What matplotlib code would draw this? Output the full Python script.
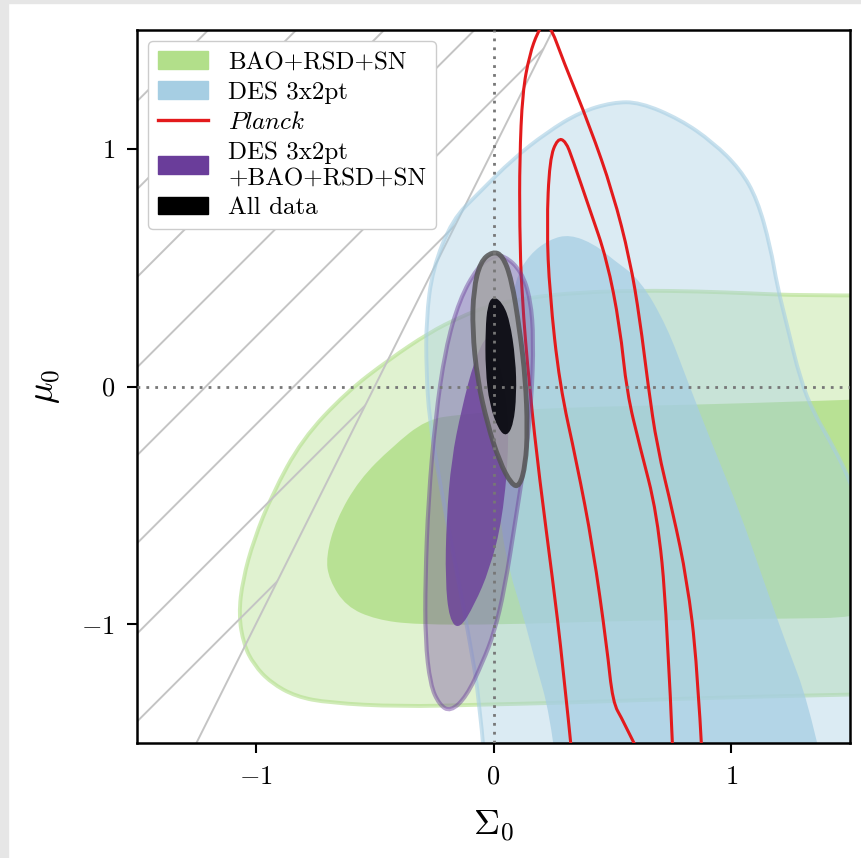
import matplotlib
matplotlib.use('Agg')
import matplotlib.pyplot as plt
import numpy as np
from matplotlib.patches import Patch, Polygon, Rectangle, PathPatch
from matplotlib.path import Path
from matplotlib.lines import Line2D

plt.rcParams['font.family'] = 'serif'
plt.rcParams['font.serif'] = ['cmr10', 'DejaVu Serif']
plt.rcParams['mathtext.fontset'] = 'cm'
plt.rcParams['axes.formatter.use_mathtext'] = True

# 轮廓数据 (Sigma0, mu0)
bao_outer_x = [1.9, 1.291, 1.080, 0.869, 0.616, 0.363, 0.152, -0.017, -0.143, -0.270, -0.439, -0.620,
               -0.806, -0.932, -1.008, -1.055, -1.072, -1.051, -1.008, -0.937, -0.831, -0.692, -0.397,
               -0.059, 0.278, 0.658, 1.080, 1.9]
bao_outer_y = [0.383, 0.383, 0.392, 0.400, 0.404, 0.396, 0.375, 0.341, 0.291, 0.227, 0.114, -0.025,
               -0.223, -0.455, -0.644, -0.813, -0.960, -1.086, -1.171, -1.246, -1.305, -1.331, -1.347,
               -1.339, -1.331, -1.318, -1.305, -1.288]
bao_inner_x = [1.9, 1.291, 0.869, 0.447, 0.110, -0.143, -0.283, -0.426, -0.565, -0.662, -0.705, -0.692,
               -0.620, -0.494, -0.325, 0.025, 0.447, 0.869, 1.9]
bao_inner_y = [-0.042, -0.063, -0.076, -0.084, -0.097, -0.118, -0.139, -0.253, -0.392, -0.560, -0.716,
               -0.813, -0.926, -0.981, -1.002, -1.002, -0.989, -0.981, -0.968]

des_outer_x = [-0.02, -0.059, -0.101, -0.165, -0.228, -0.270, -0.283, -0.283, -0.257, -0.173, -0.059,
               0.080, 0.224, 0.363, 0.502, 0.616, 0.785, 0.924, 1.038, 1.110, 1.165, 1.194, 1.236, 1.291,
               1.346, 1.430, 1.502, 1.629, 1.8]
des_outer_y = [-1.8, -1.318, -1.065, -0.728, -0.392, -0.139, 0.072, 0.282, 0.493, 0.703, 0.817, 0.956,
               1.069, 1.154, 1.196, 1.196, 1.124, 1.027, 0.914, 0.787, 0.589, 0.421, 0.253, 0.029,
               -0.109, -0.253, -0.400, -0.728, -1.8]
des_inner_x = [0.29, 0.236, 0.181, 0.122, 0.068, 0.025, 0.017, 0.046, 0.089, 0.152, 0.236, 0.321, 0.426,
               0.502, 0.616, 0.730, 0.814, 0.924, 1.038, 1.135, 1.236, 1.321, 1.43]
des_inner_y = [-1.8, -1.373, -1.179, -0.952, -0.783, -0.560, -0.265, 0.156, 0.451, 0.556, 0.619, 0.640,
               0.598, 0.535, 0.451, 0.253, 0.029, -0.253, -0.531, -0.813, -1.095, -1.318, -1.8]

planck_outer_x = [0.335, 0.291, 0.249, 0.194, 0.152, 0.118, 0.110, 0.110, 0.122, 0.152, 0.186, 0.215, 0.245,
                  0.291, 0.405, 0.502, 0.574, 0.616, 0.650, 0.688, 0.755, 0.814, 0.857, 0.88]
planck_outer_y = [-1.6, -1.162, -0.813, -0.392, -0.013, 0.396, 0.674, 0.956, 1.238, 1.398, 1.491, 1.537,
                  1.503, 1.377, 1.095, 0.817, 0.535, 0.282, 0.008, -0.253, -0.531, -0.813, -1.162, -1.6]
planck_inner_x = [0.64, 0.544, 0.502, 0.477, 0.418, 0.350, 0.278, 0.236, 0.224, 0.236, 0.270, 0.304, 0.333,
                  0.405, 0.477, 0.532, 0.561, 0.616, 0.688, 0.730, 0.757]
planck_inner_y = [-1.6, -1.402, -1.331, -1.095, -0.674, -0.320, 0.008, 0.396, 0.674, 0.956, 1.045, 1.032,
                  0.956, 0.745, 0.535, 0.253, -0.025, -0.253, -0.531, -0.952, -1.6]

comb_outer_x = [0.046, 0.118, 0.156, 0.169, 0.160, 0.139, 0.093, 0.046, 0.004, -0.046, -0.114, -0.181,
                -0.228, -0.266, -0.287, -0.287, -0.274, -0.245, -0.203, -0.143, -0.068, -0.008]
comb_outer_y = [0.552, 0.484, 0.366, 0.198, -0.055, -0.265, -0.560, -0.855, -1.032, -1.162, -1.305, -1.368,
                -1.339, -1.255, -1.065, -0.813, -0.476, -0.139, 0.156, 0.366, 0.501, 0.547]
comb_inner_x = [-0.017, 0.046, 0.068, 0.038, -0.017, -0.080, -0.143, -0.186, -0.203, -0.198, -0.177, -0.135, -0.080]
comb_inner_y = [0.240, 0.029, -0.223, -0.560, -0.771, -0.918, -1.023, -0.981, -0.813, -0.560, -0.307, -0.097, 0.114]

all_outer_x = [-0.004, 0.038, 0.076, 0.110, 0.135, 0.143, 0.135, 0.110, 0.076, 0.025, -0.025, -0.068, -0.089,
               -0.084, -0.055]
all_outer_y = [0.568, 0.552, 0.451, 0.240, 0.029, -0.181, -0.328, -0.421, -0.413, -0.316, -0.160, 0.029, 0.240,
               0.408, 0.526]
all_inner_x = [-0.004, 0.034, 0.068, 0.093, 0.097, 0.084, 0.055, 0.021, -0.017, -0.034, -0.034, -0.025]
all_inner_y = [0.379, 0.358, 0.282, 0.114, -0.034, -0.160, -0.211, -0.181, -0.076, 0.072, 0.240, 0.341]

# 斜线区域: mu0 > 2*Sigma0 + 1, 斜线 mu0 = Sigma0 + c
hatch_offsets = [0.09, 0.46, 0.84, 1.21, 1.58, 1.96, 2.33, 2.70]
bound_slope, bound_icpt = 2.0, 1.0

c_green = '#b2df8a'
c_blue = '#a6cee3'
c_red = '#e31a1c'
c_purple = '#6a3d9a'

fig = plt.figure(figsize=(8.61, 8.58), dpi=100)
fig.patches.append(Rectangle((0, 0), 8 / 861, 1, transform=fig.transFigure, color='#e6e6e6', zorder=-10))
fig.patches.append(Rectangle((0, 1 - 3 / 858), 1, 3 / 858, transform=fig.transFigure, color='#e6e6e6', zorder=-10))
ax = fig.add_axes([137 / 861, 115 / 858, 713 / 861, 713 / 858])


# 用二次贝塞尔把折线画得平滑一些
def smooth_path(xs, ys, closed=True):
    pts = np.column_stack([xs, ys])
    if closed:
        mids = (pts + np.roll(pts, -1, axis=0)) / 2
        verts = [mids[-1]]
        codes = [Path.MOVETO]
        for i in range(len(pts)):
            verts += [pts[i], mids[i]]
            codes += [Path.CURVE3, Path.CURVE3]
        verts.append(mids[-1])
        codes.append(Path.CLOSEPOLY)
    else:
        verts = [pts[0]]
        codes = [Path.MOVETO]
        for i in range(1, len(pts) - 1):
            end = (pts[i] + pts[i + 1]) / 2 if i < len(pts) - 2 else pts[i + 1]
            verts += [pts[i], end]
            codes += [Path.CURVE3, Path.CURVE3]
    return Path(verts, codes)


def contour(xs, ys, color, a_fill, a_edge, lw, z, edge=None):
    ec = matplotlib.colors.to_rgba(edge or color, a_edge)
    ax.add_patch(PathPatch(smooth_path(xs, ys), facecolor=matplotlib.colors.to_rgba(color, a_fill),
                           edgecolor=ec, lw=lw, zorder=z))


contour(bao_outer_x, bao_outer_y, c_green, 0.4, 0.6, 2.8, 1)
contour(bao_inner_x, bao_inner_y, c_green, 0.85, 0.0, 0, 1.1)
contour(des_outer_x, des_outer_y, c_blue, 0.4, 0.6, 2.8, 2)
contour(des_inner_x, des_inner_y, c_blue, 0.75, 0.0, 0, 2.1)
for px, py in [(planck_outer_x, planck_outer_y), (planck_inner_x, planck_inner_y)]:
    ax.add_patch(PathPatch(smooth_path(px, py, closed=False), fill=False, edgecolor=c_red, lw=2.2, zorder=3))
contour(comb_outer_x, comb_outer_y, c_purple, 0.35, 0.45, 3, 4)
contour(comb_inner_x, comb_inner_y, c_purple, 0.8, 0.0, 0, 4.1)
contour(all_outer_x, all_outer_y, '#a4a4a4', 0.8, 0.85, 3.5, 5, edge='#555555')
contour(all_inner_x, all_inner_y, '#0a0a12', 0.95, 0.0, 0, 5.1)

# 斜线区域
sx = np.array([-1.6, 0.35])
clip = Polygon([(-1.3, -1.6), (0.3, 1.6), (-1.6, 1.6), (-1.6, -1.6)], closed=True,
               transform=ax.transData, fill=False, lw=0)
ax.add_patch(clip)
for c in hatch_offsets:
    ln, = ax.plot(sx, sx + c, color='#c4c4c4', lw=1.4, zorder=1.5)
    ln.set_clip_path(clip)
ax.plot(sx, bound_slope * sx + bound_icpt, color='#c4c4c4', lw=1.4, zorder=1.5)

ax.axvline(0, color='#777777', ls=(0, (1, 2.2)), lw=2, zorder=6)
ax.axhline(0, color='#777777', ls=(0, (1, 2.2)), lw=2, zorder=6)

ax.set_xlim(-1.5, 1.5)
ax.set_ylim(-1.5, 1.5)
ax.set_xticks([-1, 0, 1])
ax.set_yticks([-1, 0, 1])
ax.tick_params(direction='out', length=7, width=1.5, labelsize=19, pad=9)
for sp in ax.spines.values():
    sp.set_linewidth(1.8)
ax.set_xlabel(r'$\Sigma_0$', fontsize=26, labelpad=14)
ax.set_ylabel(r'$\mu_0$', fontsize=26, labelpad=14)

handles = [Patch(color=c_green), Patch(color=c_blue), Line2D([], [], color=c_red, lw=2.4),
           Patch(color=c_purple), Patch(color='black')]
labels = ['BAO+RSD+SN', 'DES 3x2pt', r'$Planck$', 'DES 3x2pt\n+BAO+RSD+SN', 'All data']
leg = ax.legend(handles, labels, loc='upper left', fontsize=18, handlelength=2.0, handleheight=0.7,
                handletextpad=0.8, labelspacing=0.3, borderaxespad=0.45, borderpad=0.4,
                framealpha=1, edgecolor='#cccccc')
leg.set_zorder(10)

plt.savefig('out.png', dpi=100)
